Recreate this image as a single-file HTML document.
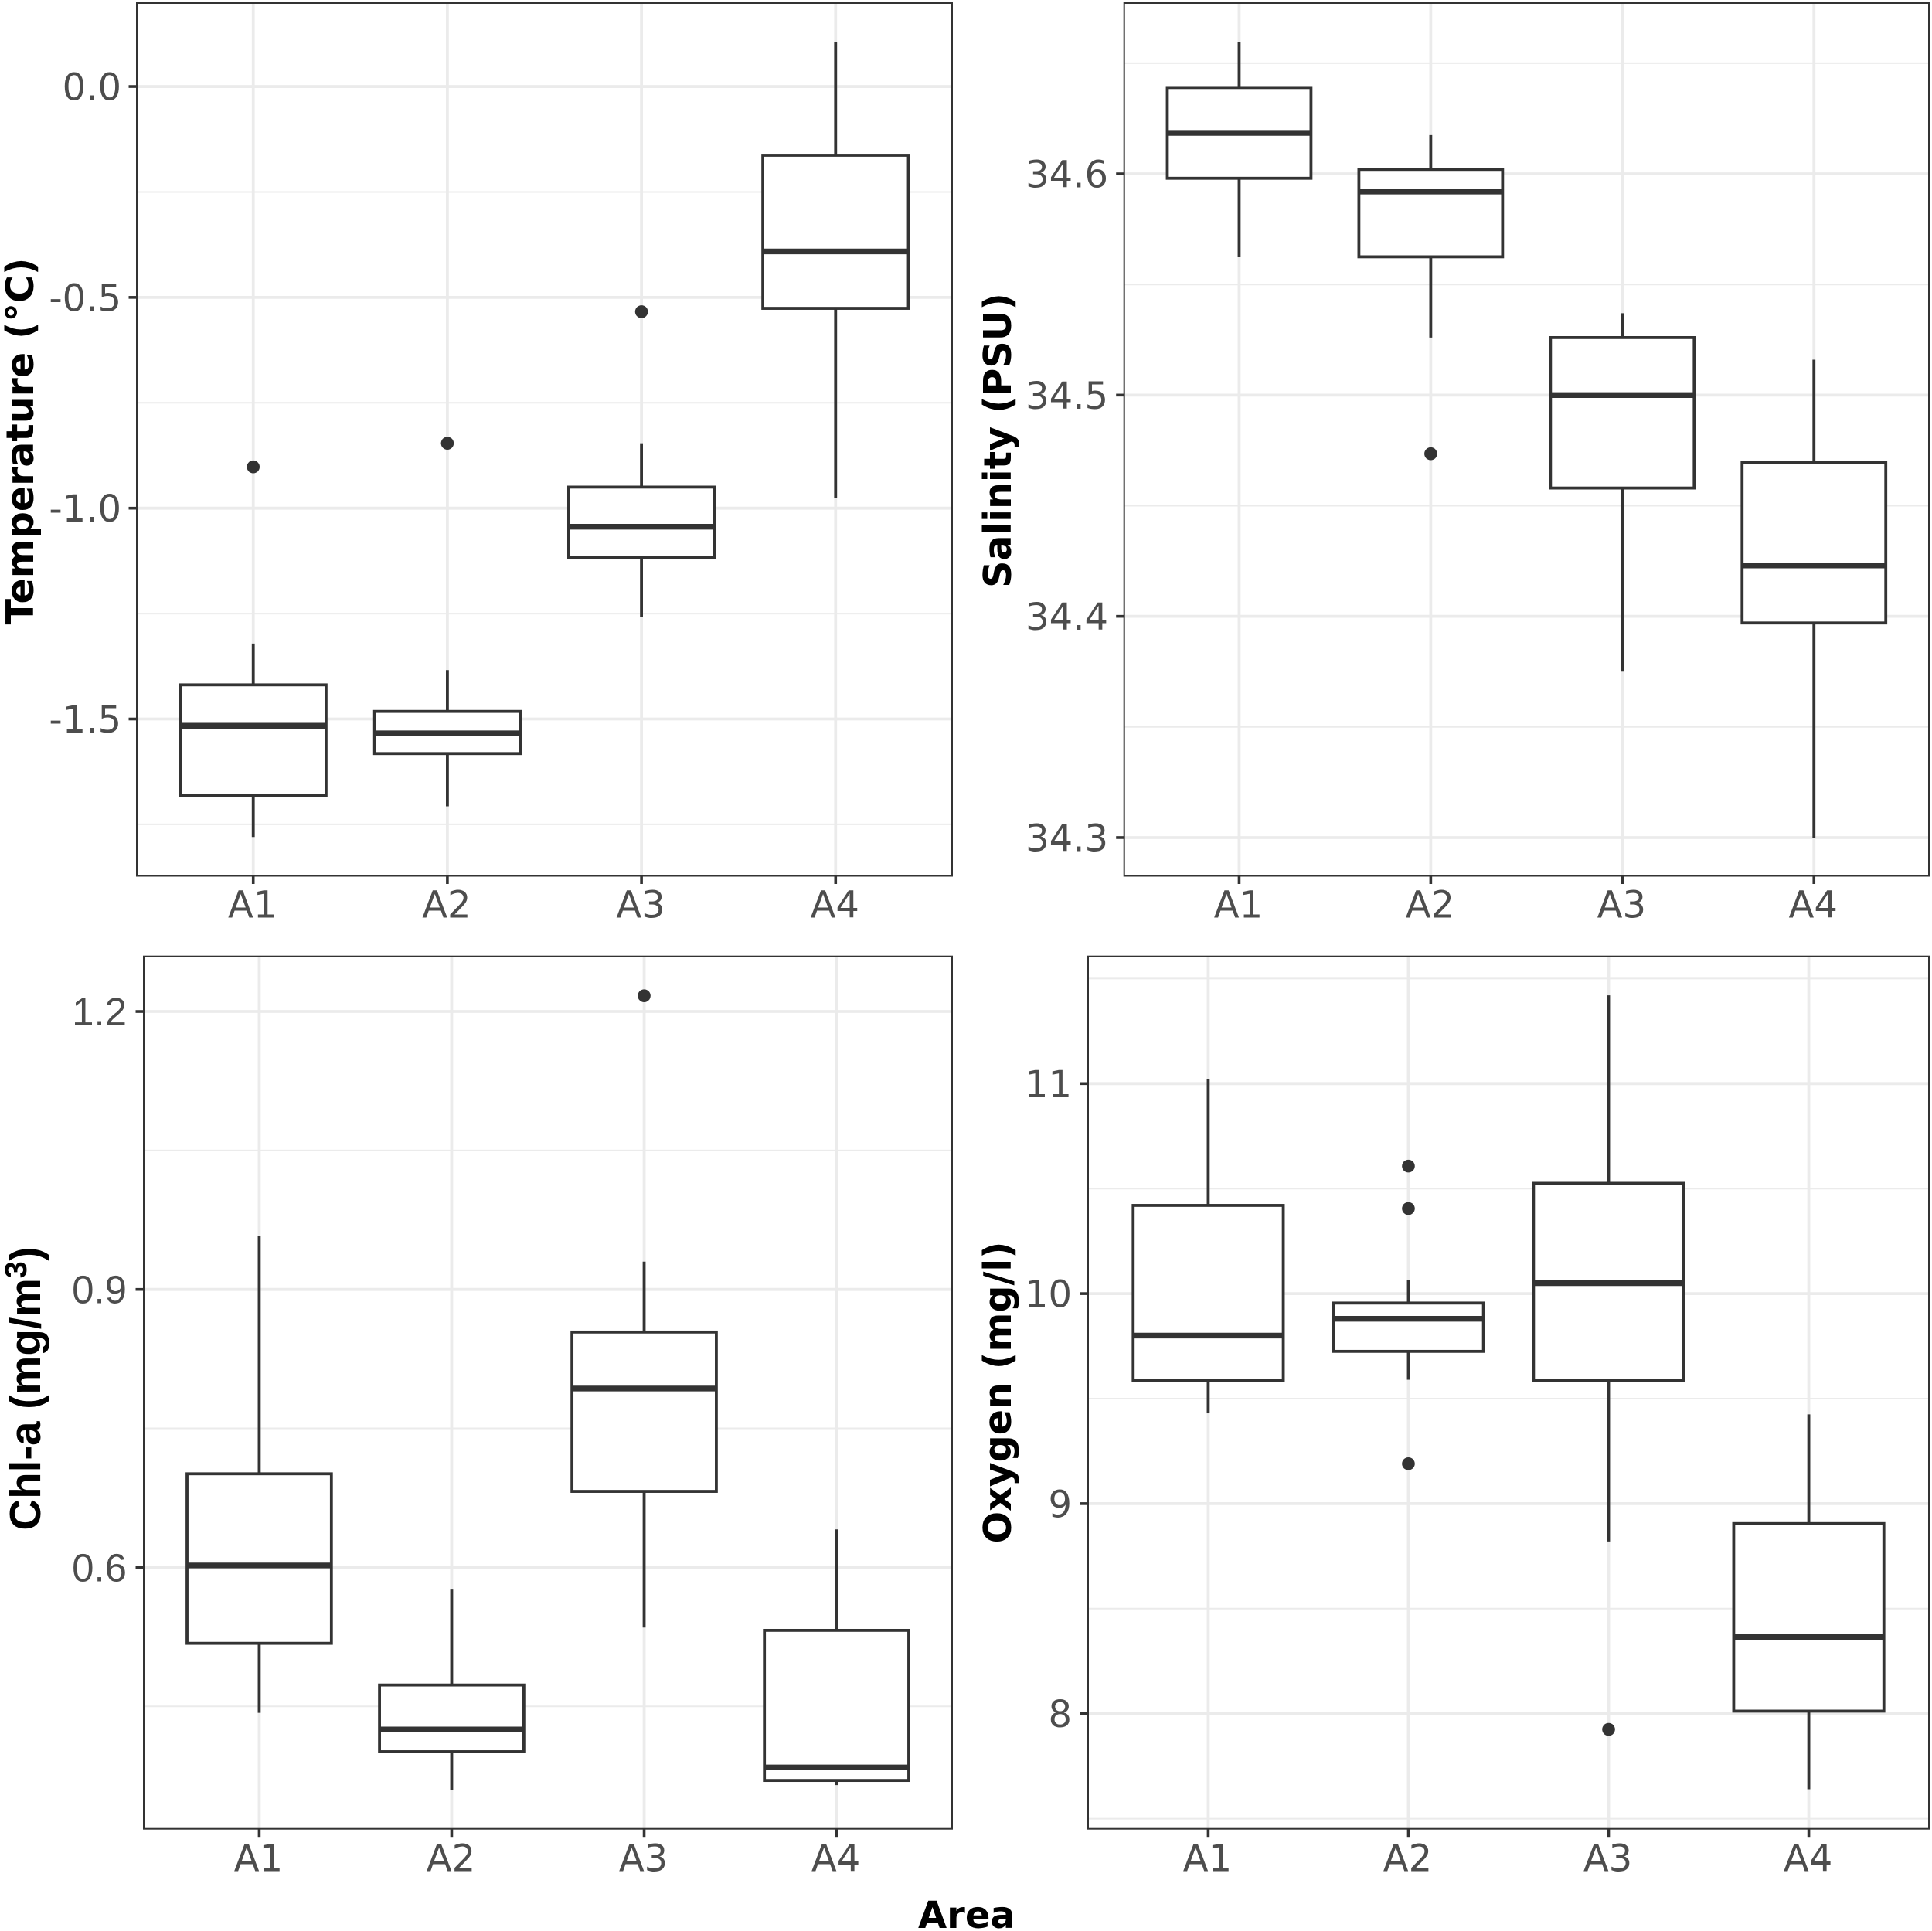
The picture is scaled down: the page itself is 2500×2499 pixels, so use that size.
<!DOCTYPE html>
<html lang="en">
<head>
<meta charset="utf-8">
<title>Boxplots by area</title>
<style>
html,body{margin:0;padding:0;background:#fff;}
svg{display:block;}
</style>
</head>
<body>
<svg id="chart" xmlns="http://www.w3.org/2000/svg" width="2500" height="2499" viewBox="0 0 2500 2499">
<rect x="0" y="0" width="2500" height="2499" fill="#ffffff"/>
<text x="1188" y="2495" font-family="'DejaVu Sans',sans-serif" font-weight="700" font-size="48" fill="#000">Area</text>
</svg>
<script>
const categories = ["A1", "A2", "A3", "A4"];

const tempTicks = [-1.5, -1.0, -0.5, 0.0];
const tempTickLabels = ["-1.5", "-1.0", "-0.5", "0.0"];
const tempHigh = [-1.321, -1.384, -0.846, 0.105];
const tempQ3 = [-1.419, -1.482, -0.950, -0.163];
const tempMedian = [-1.516, -1.534, -1.044, -0.391];
const tempQ1 = [-1.681, -1.582, -1.117, -0.526];
const tempLow = [-1.780, -1.707, -1.258, -0.976];
const tempOutliers = [[-0.902], [-0.846], [-0.534], []];

const salTicks = [34.3, 34.4, 34.5, 34.6];
const salTickLabels = ["34.3", "34.4", "34.5", "34.6"];
const salHigh = [34.6595, 34.6175, 34.537, 34.516];
const salQ3 = [34.639, 34.602, 34.526, 34.4695];
const salMedian = [34.6185, 34.592, 34.5, 34.423];
const salQ1 = [34.598, 34.5625, 34.458, 34.397];
const salLow = [34.5625, 34.526, 34.375, 34.3];
const salOutliers = [[], [34.4735], [], []];

const chlTicks = [0.6, 0.9, 1.2];
const chlTickLabels = ["0.6", "0.9", "1.2"];
const chlHigh = [0.958, 0.576, 0.930, 0.641];
const chlQ3 = [0.701, 0.473, 0.854, 0.532];
const chlMedian = [0.602, 0.425, 0.793, 0.384];
const chlQ1 = [0.518, 0.401, 0.682, 0.370];
const chlLow = [0.443, 0.360, 0.535, 0.365];
const chlOutliers = [[], [], [1.217], []];

const oxyTicks = [8, 9, 10, 11];
const oxyTickLabels = ["8", "9", "10", "11"];
const oxyHigh = [11.02, 10.065, 11.42, 9.425];
const oxyQ3 = [10.42, 9.955, 10.525, 8.905];
const oxyMedian = [9.80, 9.88, 10.05, 8.365];
const oxyQ1 = [9.585, 9.725, 9.585, 8.012];
const oxyLow = [9.43, 9.59, 8.82, 7.64];
const oxyOutliers = [[], [10.607, 10.405, 9.19], [7.925], []];

const panels = [
  {key:"temperature", left:177, right:1232, top:4, bottom:1133.5, yMin:-1.872, yMax:0.198,
   ticks:tempTicks, labels:tempTickLabels, high:tempHigh, q3:tempQ3, med:tempMedian, q1:tempQ1, low:tempLow, out:tempOutliers,
   labelRight:157, labelFont:"'DejaVu Sans',sans-serif", labelSize:48, labelShift:17.5, xLabelBase:1187.5,
   title:"Temperature (°C)", titleX:43, titleY:571, titleSize:49, titleFont:"'DejaVu Sans',sans-serif"},
  {key:"salinity", left:1454.7, right:2496, top:4, bottom:1133.5, yMin:34.2827, yMax:34.6772,
   ticks:salTicks, labels:salTickLabels, high:salHigh, q3:salQ3, med:salMedian, q1:salQ1, low:salLow, out:salOutliers,
   labelRight:1434, labelFont:"'DejaVu Sans',sans-serif", labelSize:48, labelShift:17.5, xLabelBase:1187.5,
   title:"Salinity (PSU)", titleX:1308, titleY:570, titleSize:49, titleFont:"'DejaVu Sans',sans-serif"},
  {key:"chl-a", left:186, right:1232, top:1237.7, bottom:2366.7, yMin:0.3178, yMax:1.2595,
   ticks:chlTicks, labels:chlTickLabels, high:chlHigh, q3:chlQ3, med:chlMedian, q1:chlQ1, low:chlLow, out:chlOutliers,
   labelRight:164, labelFont:"'Liberation Sans',sans-serif", labelSize:51, labelShift:18, xLabelBase:2421.5,
   title:"Chl-a (mg/m", titleSup:"3", titleEnd:")", titleX:52, titleY:1797, titleSize:56.5, titleFont:"'Liberation Sans',sans-serif"},
  {key:"oxygen", left:1408, right:2496, top:1237.7, bottom:2366.7, yMin:7.4518, yMax:11.6056,
   ticks:oxyTicks, labels:oxyTickLabels, high:oxyHigh, q3:oxyQ3, med:oxyMedian, q1:oxyQ1, low:oxyLow, out:oxyOutliers,
   labelRight:1387, labelFont:"'DejaVu Sans',sans-serif", labelSize:48, labelShift:17.5, xLabelBase:2421.5,
   title:"Oxygen (mg/l)", titleX:1308, titleY:1802, titleSize:49, titleFont:"'DejaVu Sans',sans-serif"}
];

const svg = document.getElementById("chart");
const NS = "http://www.w3.org/2000/svg";

function make(tag, props, parent) {
  const el = document.createElementNS(NS, tag);
  for (const k in props) el.setAttribute(k, props[k]);
  (parent || svg).appendChild(el);
  return el;
}

function drawPanel(p) {
  const g = make("g", {});
  
  

  const xStep = (p.right - p.left) / (categories.length + 0.2);
  const xScale = i => p.left + (i + 0.6) * xStep;
  const yScale = v => p.bottom - (v - p.yMin) / (p.yMax - p.yMin) * (p.bottom - p.top);
  const boxW = xStep * 0.75;

  const bg = make("rect", {x:p.left, y:p.top, width:p.right-p.left, height:p.bottom-p.top, fill:"#fff"}, g);
  
  

  // minor gridlines halfway between major ticks, extended while inside the domain
  const gap = p.ticks[1] - p.ticks[0];
  for (let i = -2; i < p.ticks.length + 1; i++) {
    const v = p.ticks[0] + (i + 0.5) * gap;
    if (v < p.yMin || v > p.yMax) continue;
    const line = make("line", {x1:p.left, x2:p.right, y1:yScale(v), y2:yScale(v), stroke:"#ebebeb", "stroke-width":2}, g);
    
    
  }
  p.ticks.forEach(v => {
    const line = make("line", {x1:p.left, x2:p.right, y1:yScale(v), y2:yScale(v), stroke:"#ebebeb", "stroke-width":3.8}, g);
    
    
  });
  categories.forEach((c, i) => {
    const line = make("line", {x1:xScale(i), x2:xScale(i), y1:p.top, y2:p.bottom, stroke:"#ebebeb", "stroke-width":3.8}, g);
    
    
  });

  categories.forEach((c, i) => {
    const x = xScale(i);
    const wTop = make("line", {x1:x, x2:x, y1:yScale(p.high[i]), y2:yScale(p.q3[i]), stroke:"#333", "stroke-width":3.8}, g);
    
    
    const wLow = make("line", {x1:x, x2:x, y1:yScale(p.q1[i]), y2:yScale(p.low[i]), stroke:"#333", "stroke-width":3.8}, g);
    
    
    const box = make("rect", {x:x-boxW/2, y:yScale(p.q3[i]), width:boxW, height:yScale(p.q1[i])-yScale(p.q3[i]), fill:"#fff", stroke:"#333", "stroke-width":3.8}, g);
    
    
    const med = make("line", {x1:x-boxW/2, x2:x+boxW/2, y1:yScale(p.med[i]), y2:yScale(p.med[i]), stroke:"#333", "stroke-width":7.4}, g);
    
    
    p.out[i].forEach(v => {
      const dot = make("circle", {cx:x, cy:yScale(v), r:8.3, fill:"#333"}, g);
      
      
    });
  });

  const border = make("rect", {x:p.left, y:p.top, width:p.right-p.left, height:p.bottom-p.top, fill:"none", stroke:"#333", "stroke-width":2}, g);
  
  

  p.ticks.forEach((v, i) => {
    const y = yScale(v);
    const tick = make("line", {x1:p.left-10.5, x2:p.left, y1:y, y2:y, stroke:"#333", "stroke-width":3.6}, g);
    
    
    const lab = make("text", {x:p.labelRight, y:y+p.labelShift, "text-anchor":"end", "font-family":p.labelFont, "font-size":p.labelSize, fill:"#4d4d4d"}, g);
    
    
    lab.textContent = p.labels[i];
  });
  categories.forEach((c, i) => {
    const x = xScale(i);
    const tick = make("line", {x1:x, x2:x, y1:p.bottom, y2:p.bottom+10.5, stroke:"#333", "stroke-width":3.6}, g);
    
    
    const lab = make("text", {x:x-1, y:p.xLabelBase, "text-anchor":"middle", "font-family":"'DejaVu Sans',sans-serif", "font-size":48, fill:"#4d4d4d"}, g);
    
    
    lab.textContent = c;
  });

  const title = make("text", {transform:"translate(" + p.titleX + "," + p.titleY + ") rotate(-90)", "text-anchor":"middle", "font-family":p.titleFont, "font-weight":700, "font-size":p.titleSize, fill:"#000"}, g);
  
  
  title.appendChild(document.createTextNode(p.title));
  if (p.titleSup) {
    const sup = make("tspan", {dy:-18, "font-size":p.titleSize*0.7}, title);
    sup.textContent = p.titleSup;
    const end = make("tspan", {dy:18}, title);
    end.textContent = p.titleEnd;
  }
}

panels.forEach(drawPanel);
</script>
</body>
</html>
